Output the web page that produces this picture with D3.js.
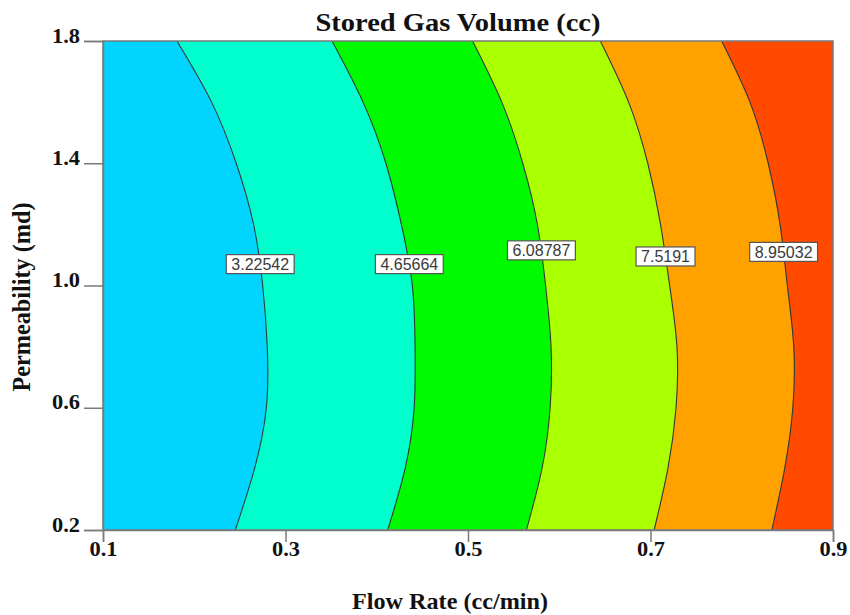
<!DOCTYPE html>
<html>
<head>
<meta charset="utf-8">
<script src="https://cdn.jsdelivr.net/npm/d3@7/dist/d3.min.js"></script>
<style>
  html, body { margin: 0; padding: 0; background: #fff; }
  svg { display: block; }
  .serif { font-family: "Liberation Serif", "Times New Roman", serif; font-weight: bold; fill: #111; }
  .clabel { font-family: "Liberation Sans", Arial, sans-serif; font-size: 16px; fill: #3a3a3a; }
</style>
</head>
<body>
<svg id="chart" width="850" height="615"></svg>
<script>
// Axis ticks
const flowTicks = [0.1, 0.3, 0.5, 0.7, 0.9];
const permTicks = [0.2, 0.6, 1.0, 1.4, 1.8];

// Contour levels of stored gas volume (cc)
const contourLevels = [3.22542, 4.65664, 6.08787, 7.5191, 8.95032];

// Permeability values at which each contour line's flow rate is given
const permSamples = [0.2, 0.4, 0.6, 0.8, 1.0, 1.2, 1.4, 1.6, 1.8];
// Flow rate (cc/min) of each contour line at the permeability samples
const contour1 = [0.245, 0.266, 0.279, 0.280, 0.275, 0.265, 0.246, 0.219, 0.181];
const contour2 = [0.412, 0.431, 0.441, 0.442, 0.439, 0.427, 0.410, 0.385, 0.351];
const contour3 = [0.564, 0.581, 0.590, 0.591, 0.585, 0.576, 0.560, 0.537, 0.505];
const contour4 = [0.704, 0.719, 0.728, 0.729, 0.721, 0.711, 0.697, 0.676, 0.645];
const contour5 = [0.833, 0.847, 0.856, 0.857, 0.850, 0.842, 0.829, 0.809, 0.778];

// Permeability at which each contour's value label sits
const labelPerm = [1.07, 1.07, 1.115, 1.095, 1.11];

// Band fill colours, low to high
const bandColors = ["#00D4FF", "#00FFCC", "#00FA00", "#AAFF00", "#FFA200", "#FF4A00"];

const svg = d3.select("#chart");
const plotL = 103, plotR = 833, plotT = 41, plotB = 530;

const x = d3.scaleLinear().domain([0.1, 0.9]).range([plotL, plotR]);
const y = d3.scaleLinear().domain([0.2, 1.8]).range([plotB, plotT]);

const contours = [contour1, contour2, contour3, contour4, contour5];
const xMin = x.domain()[0], xMax = x.domain()[1];

// Boundaries of the bands: plot edges plus the contour lines
const edges = [permSamples.map(() => xMin), ...contours, permSamples.map(() => xMax)];

svg.append("clipPath").attr("id", "plotClip")
  .append("rect").attr("x", plotL).attr("y", plotT)
  .attr("width", plotR - plotL).attr("height", plotB - plotT);

const plot = svg.append("g").attr("clip-path", "url(#plotClip)");
const curve = d3.curveNatural;

const area = d3.area()
  .y(d => y(d.p))
  .x0(d => x(d.a))
  .x1(d => x(d.b))
  .curve(curve);

bandColors.forEach((c, i) => {
  const pts = permSamples.map((p, k) => ({ p, a: edges[i][k], b: edges[i + 1][k] }));
  plot.append("path").attr("d", area(pts)).attr("fill", c).attr("stroke", c).attr("stroke-width", 0.6);
});

const line = d3.line().x(d => x(d.f)).y(d => y(d.p)).curve(curve);
const linePaths = contours.map(cv => {
  const pts = permSamples.map((p, k) => ({ p, f: cv[k] }));
  return plot.append("path").attr("d", line(pts))
    .attr("fill", "none").attr("stroke", "#2f3a3a").attr("stroke-width", 1.1);
});

// Frame
svg.append("rect").attr("x", plotL).attr("y", plotT)
  .attr("width", plotR - plotL).attr("height", plotB - plotT)
  .attr("fill", "none").attr("stroke", "#7a7a7a").attr("stroke-width", 1.5);

// Contour labels, placed where each line crosses its label permeability
function xOnPath(pathNode, targetY) {
  const L = pathNode.getTotalLength();
  let best = null, bestD = Infinity;
  for (let s = 0; s <= L; s += 0.5) {
    const pt = pathNode.getPointAtLength(s);
    const d = Math.abs(pt.y - targetY);
    if (d < bestD) { bestD = d; best = pt; }
  }
  return best.x;
}

const labels = svg.append("g");
contourLevels.forEach((lv, i) => {
  const cy = y(labelPerm[i]);
  const cx = xOnPath(linePaths[i].node(), cy);
  const g = labels.append("g").attr("transform", `translate(${cx},${cy})`);
  const t = g.append("text").attr("class", "clabel")
    .attr("text-anchor", "middle").attr("dy", "0.37em").text(String(lv));
  const w = t.node().getComputedTextLength();
  g.insert("rect", "text")
    .attr("x", -w / 2 - 5).attr("y", -9.5).attr("width", w + 10).attr("height", 19)
    .attr("fill", "#fff").attr("stroke", "#555").attr("stroke-width", 1.2);
});

// Axes
const xAxis = svg.append("g").attr("transform", `translate(0,${plotB})`)
  .call(d3.axisBottom(x).tickValues(flowTicks).tickSize(12).tickFormat(d3.format(".1f")));
const yAxis = svg.append("g").attr("transform", `translate(${plotL},0)`)
  .call(d3.axisLeft(y).tickValues(permTicks).tickSize(19).tickFormat(d3.format(".1f")));

[xAxis, yAxis].forEach(a => {
  a.select(".domain").attr("stroke", "#7a7a7a").attr("stroke-width", 1.5);
  a.selectAll(".tick line").attr("stroke", "#7a7a7a").attr("stroke-width", 1.5);
  a.selectAll(".tick text").attr("class", "serif").attr("font-size", 20)
    .attr("textLength", 28).attr("lengthAdjust", "spacingAndGlyphs");
});
xAxis.selectAll(".tick text").attr("y", 12).attr("dy", "0.71em");
yAxis.selectAll(".tick text").attr("x", -23).attr("dy", "0.05em");

// Titles
svg.append("text").attr("class", "serif").attr("font-size", 25)
  .attr("x", 458).attr("y", 31).attr("text-anchor", "middle")
  .attr("textLength", 285).attr("lengthAdjust", "spacingAndGlyphs")
  .text("Stored Gas Volume (cc)");

svg.append("text").attr("class", "serif").attr("font-size", 24)
  .attr("x", 450).attr("y", 609).attr("text-anchor", "middle")
  .attr("textLength", 196).attr("lengthAdjust", "spacingAndGlyphs")
  .text("Flow Rate (cc/min)");

svg.append("text").attr("class", "serif").attr("font-size", 25)
  .attr("transform", "translate(30,297) rotate(-90)").attr("text-anchor", "middle")
  .attr("textLength", 189).attr("lengthAdjust", "spacingAndGlyphs")
  .text("Permeability (md)");
</script>
</body>
</html>
